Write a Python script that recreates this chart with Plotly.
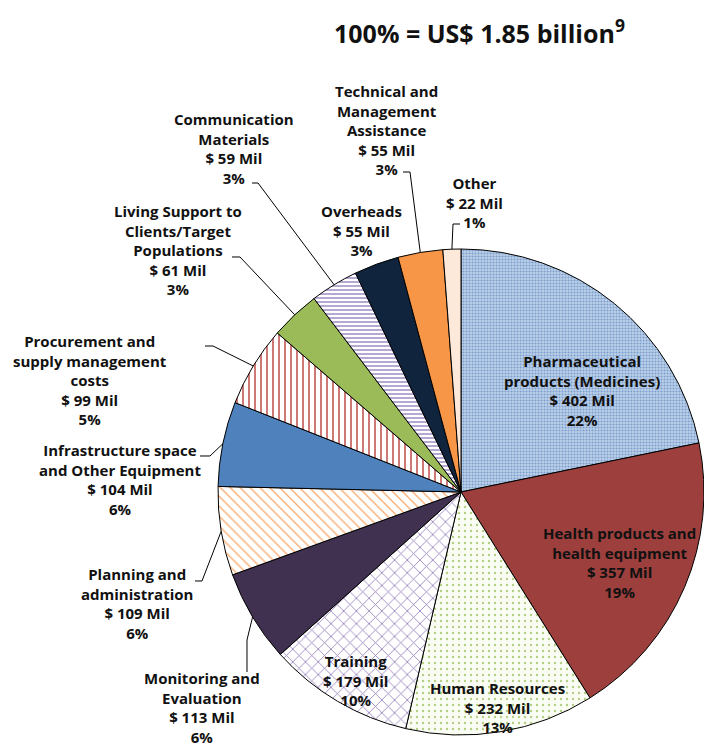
import math
import plotly.graph_objects as go

# Budget categories (US$ millions), drawn clockwise from 12 o'clock
categories = [
    "Pharmaceutical products (Medicines)",
    "Health products and health equipment",
    "Human Resources",
    "Training",
    "Monitoring and Evaluation",
    "Planning and administration",
    "Infrastructure space and Other Equipment",
    "Procurement and supply management costs",
    "Living Support to Clients/Target Populations",
    "Communication Materials",
    "Overheads",
    "Technical and Management Assistance",
    "Other",
]
values = [402, 357, 232, 179, 113, 109, 104, 99, 61, 59, 55, 55, 22]

# Wrapped label names as shown next to each slice
label_names = [
    "Pharmaceutical<br>products (Medicines)",
    "Health products and<br>health equipment",
    "Human Resources",
    "Training",
    "Monitoring and<br>Evaluation",
    "Planning and<br>administration",
    "Infrastructure space<br>and Other Equipment",
    "Procurement and<br>supply management<br>costs",
    "Living Support to<br>Clients/Target<br>Populations",
    "Communication<br>Materials",
    "Overheads",
    "Technical and<br>Management<br>Assistance",
    "Other",
]

title_text = "100% = US$ 1.85 billion<sup>9</sup>"

W, H = 704, 749
CX, CY, R = 461, 492, 243

# Slice fills: base colour, pattern shape, pattern colour, pattern size, solidity
fill_bg = ["#bcd0e8", "#9c3f3d", "#fafdf4", "#ffffff", "#403151", "#ffffff", "#4f81bd",
           "#ffffff", "#9bbb59", "#ffffff", "#10243e", "#f79646", "#fde9d9"]
pat_shape = [".", "", ".", "x", "", "\\", "", "|", "", "-", "", "", ""]
pat_fg = ["#7d9fd0", "#9c3f3d", "#b5cf85", "#9580bb", "#403151", "#f9a86a", "#4f81bd",
          "#c96a67", "#9bbb59", "#a393c6", "#10243e", "#f79646", "#fde9d9"]
pat_size = [3, 8, 6, 9, 8, 7, 8, 6, 8, 4, 8, 8, 8]
pat_solid = [0.4, 0.3, 0.12, 0.18, 0.3, 0.18, 0.3, 0.3, 0.3, 0.4, 0.3, 0.3, 0.3]

# Label block centres (pixels) and leader-line elbows (pixels, None = no leader)
label_pos = [(582, 390), (619, 562), (497, 707), (355, 680), (202, 707), (137, 603),
             (120, 479), (90, 380), (178, 250), (234, 149), (361, 231), (386, 130),
             (474, 202)]
leaders = [None, None, None, None,
           [(247, 672), (247, 640)],
           [(195, 581), (202, 581)],
           [(200, 456), (210, 456)],
           [(205, 346), (213, 346)],
           [(232, 257), (240, 257)],
           [(252, 183), (258, 183)],
           None,
           [(403, 172), (410, 172)],
           [(460, 224), (453, 224)]]


def px(x):
    return x / W


def py(y):
    return 1 - y / H


fig = go.Figure(go.Pie(
    labels=categories,
    values=values,
    sort=False,
    direction="clockwise",
    rotation=0,
    textinfo="none",
    hoverinfo="label+value+percent",
    showlegend=False,
    marker=dict(
        colors=fill_bg,
        line=dict(color="#000000", width=1),
        pattern=dict(shape=pat_shape, fgcolor=pat_fg, bgcolor=fill_bg,
                     size=pat_size, solidity=pat_solid, fillmode="replace"),
    ),
    domain=dict(x=[px(CX - R), px(CX + R)], y=[py(CY + R), py(CY - R)]),
))

total = sum(values)

annotations = []
shapes = []
cum = 0
for name, v, (lx, ly), lead in zip(label_names, values, label_pos, leaders):
    pct = round(v / total * 100)
    annotations.append(dict(
        x=px(lx), y=py(ly), xref="paper", yref="paper",
        text=f"{name}<br>$ {v} Mil<br>{pct}%",
        showarrow=False, align="center", xanchor="center", yanchor="middle",
        font=dict(family="Open Sans", size=15, color="#111111", weight="bold"),
    ))
    mid = (cum + v / 2) / total * 2 * math.pi
    cum += v
    if lead:
        ex = CX + R * math.sin(mid)
        ey = CY - R * math.cos(mid)
        pts = lead + [(ex, ey)]
        path = "M " + " L ".join(f"{px(a):.5f},{py(b):.5f}" for a, b in pts)
        shapes.append(dict(type="path", path=path, xref="paper", yref="paper",
                           line=dict(color="#000000", width=1)))

annotations.append(dict(
    x=px(480), y=py(32), xref="paper", yref="paper", text=title_text,
    showarrow=False, xanchor="center", yanchor="middle",
    font=dict(family="Open Sans", size=25, color="#111111", weight="bold"),
))

fig.update_layout(
    width=W, height=H,
    margin=dict(l=0, r=0, t=0, b=0),
    paper_bgcolor="#ffffff",
    plot_bgcolor="#ffffff",
    annotations=annotations,
    shapes=shapes,
)

fig.write_html("out.html")
